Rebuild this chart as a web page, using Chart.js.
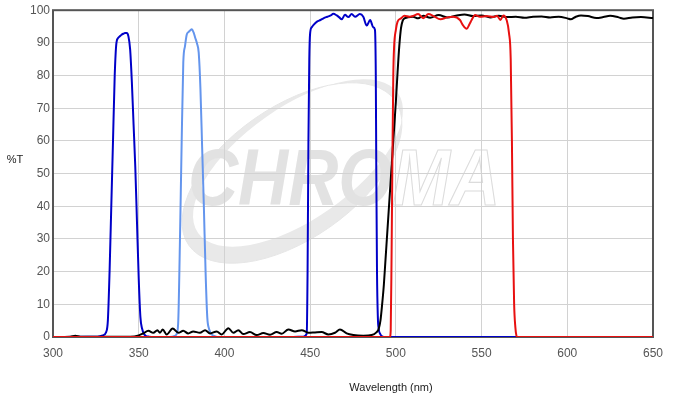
<!DOCTYPE html>
<html>
<head>
<meta charset="utf-8">
<script src="https://cdn.jsdelivr.net/npm/chart.js@4/dist/chart.umd.min.js"></script>
<style>
html,body{margin:0;padding:0;background:#fff;}
#c{display:block;}
</style>
</head>
<body>
<canvas id="c" width="673" height="402"></canvas>
<script>
// ---- data (wavelength nm / %T) ----
const xTicks = [300, 350, 400, 450, 500, 550, 600, 650];
const yTicks = [0, 10, 20, 30, 40, 50, 60, 70, 80, 90, 100];

const uv1Nm = [300, 320, 326, 329, 331, 332, 333, 334, 335, 336, 337, 338, 339, 340, 341, 342, 343, 344, 345, 346, 347, 348, 349, 350, 351, 352, 353, 354, 356, 360, 650];
const uv1T  = [0, 0.05, 0.1, 0.5, 1.5, 5, 20, 40, 60, 80, 90, 91.5, 92, 92.5, 92.8, 93, 93, 92, 88, 78, 65, 52, 35, 18, 6, 2.5, 1, 0.4, 0.1, 0, 0];

const uv2Nm = [300, 368, 371, 372, 373, 374, 375, 376, 377, 378, 379, 380, 381, 382, 383, 384, 385, 386, 387, 388, 389, 390, 391, 392, 393, 394, 396, 650];
const uv2T  = [0, 0, 0.3, 0.8, 4, 28, 58, 84, 89, 92.5, 93.3, 93.8, 94.2, 93.2, 91.5, 89.8, 87, 76, 58, 40, 20, 6, 2.5, 1.2, 0.6, 0.3, 0, 0];

const blueNm = [300, 440, 446, 448, 448.5, 449, 449.5, 450, 451, 452, 454, 456, 458, 460, 462, 463.5, 465.5, 467, 468.4, 470.3, 472.3, 474.2, 476.2, 479, 481, 483, 485, 486.8, 487.8, 488.3, 488.6, 489, 489.5, 490, 491, 492, 494, 650];
const blueT  = [0, 0, 0.1, 1, 20, 60, 85, 93, 94.8, 95.5, 96.5, 97, 97.6, 98, 98.4, 98.9, 98.4, 97.8, 97.2, 98.6, 97.9, 98.8, 98, 98.8, 98, 95.3, 97, 94.8, 94, 80, 50, 20, 6, 2.5, 0.8, 0.2, 0, 0];

const dichroNm = [300, 310, 313, 316, 330, 345, 350, 352.7, 355.6, 358.5, 360.9, 362.4, 364, 366.3, 369.8, 373.1, 376, 378.9, 381.8, 385.7, 388.7, 391.6, 395.5, 398.4, 402.3, 405.2, 408.1, 411, 414.9, 418.8, 422.7, 426.6, 430.5, 433.4, 437.3, 441.2, 445.1, 449, 452.8, 456.7, 460.6, 464.5, 467.4, 471.3, 475.2, 481, 485.9, 488.8, 490, 491, 492, 493, 494, 495, 496, 497, 498, 499, 500, 501, 502, 503, 504, 505, 510, 513, 516, 520, 525, 530, 535, 540, 545, 550, 555, 560, 565, 570, 575, 580, 585, 590, 595, 600, 602, 605, 608, 612, 617, 621, 625, 630, 633, 638, 643, 650];
const dichroT  = [0, 0.1, 0.4, 0.1, 0.05, 0.1, 0.5, 1.1, 1.9, 1.3, 2.1, 1.3, 2.3, 0.8, 2.6, 1.3, 1.9, 1.1, 1.7, 1.3, 2.1, 1.1, 1.7, 0.8, 2.7, 1.3, 2.1, 0.9, 1.5, 0.6, 1.2, 0.7, 1.5, 1.0, 2.3, 1.7, 2.1, 1.3, 1.4, 1.5, 0.8, 1.3, 2.3, 1.1, 0.6, 0.4, 0.6, 1.5, 2.5, 5, 10, 16, 24, 32, 40, 48, 56, 64, 72, 81, 89, 94.5, 96.8, 97.5, 98, 97.5, 98.3, 97.7, 98.5, 97.8, 98.3, 98.7, 98.2, 98.4, 97.8, 98.3, 97.9, 98, 97.7, 98, 98.1, 97.8, 98, 97.5, 97.2, 98, 98.4, 98.2, 97.6, 97.9, 98.3, 97.8, 97.4, 97.8, 97.9, 97.6];

const greenNm = [300, 496.5, 497, 497.5, 498, 498.5, 499, 500, 501, 503, 505, 508, 510, 513, 516, 519, 522, 526, 530, 533.5, 537.4, 539, 541.3, 543, 544.2, 546.2, 549, 553, 557, 559, 561, 562.7, 564.6, 566, 567, 567.7, 568.3, 569, 569.7, 570.3, 571, 650];
const greenT  = [0, 0, 2, 25, 55, 80, 89, 94, 96.5, 97.5, 98.3, 98, 98.2, 98.8, 97.5, 98.8, 98.2, 97.2, 97.8, 98, 97, 95.5, 94.3, 95.8, 97, 98.5, 98, 98.2, 97.9, 98.3, 97, 98.4, 97, 93, 85, 60, 30, 10, 3, 0.5, 0, 0];

function pts(xs, ys) { return xs.map((x, i) => ({ x: x, y: ys[i] })); }

const FONT = '"Liberation Sans", Arial, sans-serif';

const watermark = {
  id: 'watermark',
  beforeDraw(chart) {
    const ctx = chart.ctx;
    ctx.save();
    const rot = -35 * Math.PI / 180;
    ctx.beginPath();
    ctx.ellipse(292, 173, 126, 66, rot, 0, Math.PI * 2);
    ctx.ellipse(298, 163, 122, 56, rot, 0, Math.PI * 2);
    ctx.fillStyle = '#e9e9e9';
    ctx.fill('evenodd');
    ctx.beginPath();
    ctx.ellipse(292, 173, 126, 66, rot, 0, Math.PI * 2);
    ctx.strokeStyle = '#e6e6e6';
    ctx.lineWidth = 1;
    ctx.stroke();
    ctx.font = 'italic bold 80px ' + FONT;
    const w1 = ctx.measureText('CHRO').width;
    const w2 = ctx.measureText('MA').width;
    const sx = 312 / (w1 + w2);
    ctx.translate(188, 205);
    ctx.scale(sx, 1);
    ctx.textBaseline = 'alphabetic';
    ctx.fillStyle = '#e2e2e2';
    ctx.fillText('CHRO', 0, 0);
    ctx.strokeStyle = '#dcdcdc';
    ctx.lineWidth = 1.2;
    ctx.strokeText('MA', w1, 0);
    ctx.restore();
  }
};

const frame = {
  id: 'frame',
  beforeDatasetsDraw(chart) {
    const a = chart.chartArea, ctx = chart.ctx;
    ctx.save();
    ctx.strokeStyle = '#555555';
    ctx.lineWidth = 2;
    ctx.strokeRect(a.left, a.top, a.right - a.left, a.bottom - a.top);
    ctx.restore();
  }
};

const titles = {
  id: 'titles',
  afterDraw(chart) {
    const ctx = chart.ctx, a = chart.chartArea;
    ctx.save();
    ctx.fillStyle = '#222222';
    ctx.font = '11px ' + FONT;
    ctx.textAlign = 'center';
    ctx.textBaseline = 'middle';
    ctx.fillText('%T', 15, 160);
    ctx.fillText('Wavelength (nm)', (a.left + a.right) / 2 + 38, 388);
    ctx.restore();
  }
};

const ds = (label, xs, ys, color) => ({
  label: label,
  data: pts(xs, ys),
  borderColor: color,
  borderWidth: 2,
  pointRadius: 0,
  fill: false,
  cubicInterpolationMode: 'monotone',
});

new Chart(document.getElementById('c'), {
  type: 'line',
  data: {
    datasets: [
      ds('Emitter', greenNm, greenT, '#e81010'),
      ds('Dichroic', dichroNm, dichroT, '#000000'),
      ds('Excitation 3', blueNm, blueT, '#0000c8'),
      ds('Excitation 2', uv2Nm, uv2T, '#6495ed'),
      ds('Excitation 1', uv1Nm, uv1T, '#0000c8'),
    ]
  },
  options: {
    responsive: false,
    devicePixelRatio: 1,
    animation: false,
    layout: { padding: { left: 0, top: 9, right: 20, bottom: 0 } },
    plugins: { legend: { display: false }, tooltip: { enabled: false } },
    scales: {
      x: {
        type: 'linear',
        min: xTicks[0], max: xTicks[xTicks.length - 1],
        afterBuildTicks(s) { s.ticks = xTicks.map(v => ({ value: v })); },
        afterFit(s) { s.height = 65; },
        ticks: { color: '#555555', font: { family: FONT, size: 12 }, padding: 9, maxRotation: 0 },
        grid: { color: '#d2d2d2', drawTicks: false },
        border: { display: false }
      },
      y: {
        min: yTicks[0], max: yTicks[yTicks.length - 1],
        afterBuildTicks(s) { s.ticks = yTicks.map(v => ({ value: v })); },
        afterFit(s) { s.width = 53; },
        ticks: { color: '#555555', font: { family: FONT, size: 12 }, padding: 3 },
        grid: { color: '#d2d2d2', drawTicks: false },
        border: { display: false }
      }
    }
  },
  plugins: [watermark, frame, titles]
});
</script>
</body>
</html>
